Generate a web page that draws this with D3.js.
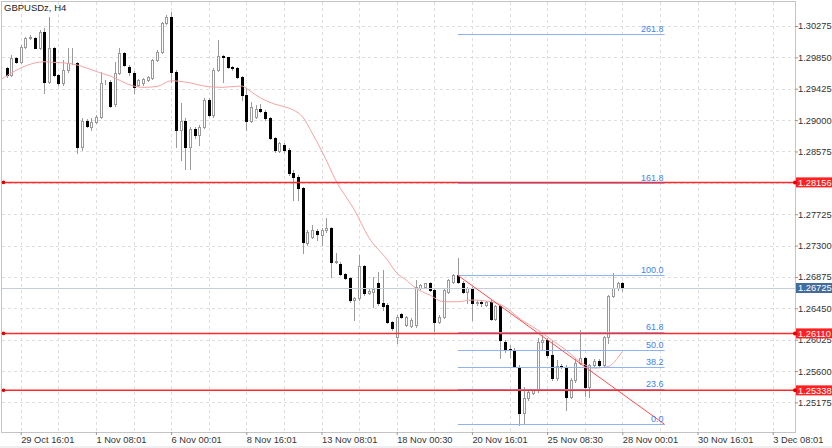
<!DOCTYPE html>
<html>
<head>
<meta charset="utf-8">
<script src="https://cdn.jsdelivr.net/npm/d3@7"></script>
<style>
  html, body { margin: 0; padding: 0; background: #fff; }
  svg { display: block; font-family: "Liberation Sans", Arial, sans-serif; }
</style>
</head>
<body>
<svg id="chart" width="832" height="448"></svg>
<script>
// GBPUSDz H4 - bar index 0 = 29 Oct 16:00, one step = one 4h bar
const firstIndex = -3;

const opens = [
  1.29710, 1.29611, 1.29837, 1.29791, 1.29986, 1.30116, 1.30108, 1.29973, 1.30189, 1.29520,
  1.29973, 1.29611, 1.29498, 1.29679, 1.29777, 1.29769, 1.28639, 1.28992, 1.28910, 1.28978,
  1.29046, 1.29516, 1.29520, 1.29218, 1.29638, 1.29909, 1.29719, 1.29642, 1.29475, 1.29502,
  1.29543, 1.29570, 1.29814, 1.29922, 1.30315, 1.30397, 1.29655, 1.28866, 1.28992, 1.28639,
  1.28875, 1.28798, 1.28910, 1.29272, 1.29069, 1.29679, 1.29868, 1.29851, 1.29723, 1.29702,
  1.29588, 1.29340, 1.28992, 1.29038, 1.29146, 1.29114, 1.29024, 1.28753, 1.28585, 1.28662,
  1.28595, 1.28287, 1.28233, 1.28076, 1.27338, 1.27420, 1.27497, 1.27443, 1.27511, 1.27538,
  1.27081, 1.27050, 1.26914, 1.26860, 1.26562, 1.26585, 1.27023, 1.26657, 1.26671, 1.26792,
  1.26521, 1.26494, 1.26268, 1.26065, 1.26372, 1.26223, 1.26210, 1.26223, 1.26725, 1.26742,
  1.26788, 1.26698, 1.26268, 1.26336, 1.26675, 1.26810, 1.26901, 1.26796, 1.26671, 1.26725,
  1.26521, 1.26535, 1.26494, 1.26539, 1.26305, 1.26481, 1.25997, 1.25894, 1.25885, 1.25658,
  1.25035, 1.25230, 1.25306, 1.25343, 1.25993, 1.26020, 1.25817, 1.25505, 1.25668, 1.25658,
  1.25252, 1.25478, 1.25713, 1.25772, 1.25387, 1.25681, 1.25740, 1.25681, 1.26057, 1.26616,
  1.26721, 1.26792
];
const highs = [
  1.29723, 1.29882, 1.29855, 1.30017, 1.30130, 1.30153, 1.30130, 1.30221, 1.30248, 1.30401,
  1.29994, 1.29624, 1.29814, 1.29977, 1.29977, 1.29787, 1.29028, 1.29015, 1.29028, 1.29069,
  1.29651, 1.29543, 1.29543, 1.29787, 1.29977, 1.29922, 1.29746, 1.29665, 1.29557, 1.29570,
  1.29597, 1.29828, 1.29950, 1.30329, 1.30424, 1.30464, 1.29679, 1.29231, 1.29028, 1.28906,
  1.28906, 1.28933, 1.29299, 1.29299, 1.29706, 1.30085, 1.29882, 1.29855, 1.29733, 1.29719,
  1.29597, 1.29435, 1.29249, 1.29204, 1.29218, 1.29137, 1.29042, 1.28771, 1.28703, 1.28690,
  1.28622, 1.28324, 1.28256, 1.28089, 1.27511, 1.27578, 1.27524, 1.27538, 1.27673, 1.27551,
  1.27199, 1.27077, 1.26928, 1.26874, 1.26603, 1.27172, 1.27036, 1.26725, 1.26874, 1.26941,
  1.26969, 1.26521, 1.26277, 1.26359, 1.26386, 1.26345, 1.26318, 1.26833, 1.26779, 1.26792,
  1.26806, 1.26725, 1.26359, 1.26725, 1.26847, 1.26914, 1.27127, 1.26820, 1.26738, 1.26738,
  1.26562, 1.26562, 1.26548, 1.26562, 1.26494, 1.26494, 1.26020, 1.25952, 1.25912, 1.25681,
  1.25388, 1.25343, 1.25356, 1.26047, 1.26088, 1.26047, 1.26020, 1.25749, 1.25695, 1.25681,
  1.25505, 1.25762, 1.26156, 1.25790, 1.25695, 1.25763, 1.25763, 1.26074, 1.26630, 1.26928,
  1.26806, 1.26806
];
const lows = [
  1.29588, 1.29597, 1.29773, 1.29773, 1.29977, 1.30099, 1.29973, 1.29963, 1.29367, 1.29502,
  1.29597, 1.29475, 1.29475, 1.29651, 1.29760, 1.28554, 1.28595, 1.28906, 1.28866, 1.28960,
  1.29028, 1.29489, 1.29177, 1.29191, 1.29624, 1.29733, 1.29611, 1.29367, 1.29462, 1.29475,
  1.29529, 1.29557, 1.29800, 1.29909, 1.30302, 1.29516, 1.28635, 1.28459, 1.28337, 1.28337,
  1.28763, 1.28662, 1.28893, 1.29055, 1.29042, 1.29665, 1.29516, 1.29706, 1.29679, 1.29570,
  1.29272, 1.28866, 1.28974, 1.29028, 1.29109, 1.29001, 1.28744, 1.28567, 1.28567, 1.28567,
  1.28256, 1.27917, 1.27917, 1.27199, 1.27307, 1.27402, 1.27375, 1.27307, 1.27483, 1.26874,
  1.27063, 1.26901, 1.26847, 1.26535, 1.26291, 1.26562, 1.26630, 1.26643, 1.26467, 1.26494,
  1.26427, 1.26250, 1.26156, 1.25979, 1.26318, 1.26210, 1.26196, 1.26196, 1.26711, 1.26725,
  1.26684, 1.26142, 1.26250, 1.26318, 1.26657, 1.26792, 1.26792, 1.26657, 1.26521, 1.26291,
  1.26494, 1.26481, 1.26481, 1.26291, 1.26291, 1.25776, 1.25857, 1.25790, 1.25654, 1.24868,
  1.24882, 1.25207, 1.25288, 1.25315, 1.25885, 1.25790, 1.25478, 1.25478, 1.25641, 1.25072,
  1.25234, 1.25451, 1.25695, 1.25261, 1.25248, 1.25668, 1.25668, 1.25668, 1.25979, 1.26603,
  1.26698, 1.26684
];
const closes = [
  1.29611, 1.29837, 1.29783, 1.29994, 1.30116, 1.30130, 1.29981, 1.30189, 1.29520, 1.29973,
  1.29611, 1.29498, 1.29679, 1.29773, 1.29769, 1.28639, 1.28992, 1.28920, 1.28978, 1.29046,
  1.29502, 1.29520, 1.29191, 1.29638, 1.29909, 1.29746, 1.29651, 1.29444, 1.29543, 1.29557,
  1.29584, 1.29814, 1.29922, 1.30315, 1.30397, 1.29655, 1.28866, 1.28992, 1.28639, 1.28875,
  1.28798, 1.28910, 1.29272, 1.29069, 1.29679, 1.29868, 1.29851, 1.29723, 1.29702, 1.29588,
  1.29340, 1.28992, 1.29181, 1.29146, 1.29123, 1.29024, 1.28753, 1.28595, 1.28685, 1.28595,
  1.28287, 1.28233, 1.28076, 1.27352, 1.27487, 1.27511, 1.27456, 1.27511, 1.27538, 1.27081,
  1.27090, 1.26914, 1.26860, 1.26562, 1.26585, 1.27023, 1.26657, 1.26684, 1.26711, 1.26521,
  1.26481, 1.26268, 1.26183, 1.26336, 1.26336, 1.26332, 1.26291, 1.26742, 1.26765, 1.26788,
  1.26698, 1.26268, 1.26336, 1.26698, 1.26833, 1.26901, 1.26810, 1.26675, 1.26725, 1.26521,
  1.26535, 1.26521, 1.26539, 1.26305, 1.26481, 1.26020, 1.25885, 1.25885, 1.25658, 1.25035,
  1.25230, 1.25319, 1.25343, 1.25993, 1.26020, 1.25817, 1.25505, 1.25668, 1.25658, 1.25252,
  1.25478, 1.25713, 1.25772, 1.25387, 1.25681, 1.25740, 1.25681, 1.26057, 1.26616, 1.26721,
  1.26796, 1.26725
];

// moving average (bar index, price)
const maIndex = [-4, -2, 0, 3, 5, 7, 10, 12, 14, 17, 19, 24, 26, 29, 32, 35, 40, 43, 47, 48,
  50, 54, 56, 58, 60, 62, 65, 67, 71, 74, 78, 80, 82, 84, 87, 90, 93, 96, 100, 103,
  106, 110, 113, 116, 119, 122, 125, 127, 128];
const maValue = [1.29557, 1.29638, 1.29706, 1.29774, 1.29791, 1.29783, 1.29770, 1.29747, 1.29706, 1.29638,
  1.29598, 1.29462, 1.29444, 1.29455, 1.29534, 1.29516, 1.29453, 1.29444, 1.29462, 1.29431,
  1.29340, 1.29218, 1.29182, 1.29137, 1.29042, 1.28825, 1.28459, 1.28188, 1.27782, 1.27416,
  1.27107, 1.26930, 1.26833, 1.26725, 1.26630, 1.26539, 1.26539, 1.26562, 1.26539, 1.26471,
  1.26318, 1.26156, 1.26020, 1.25885, 1.25727, 1.25639, 1.25661, 1.25775, 1.25864];

// axis ticks
const priceTicks = [1.30275, 1.29850, 1.29425, 1.29000, 1.28575, 1.28150, 1.27725,
  1.27300, 1.26875, 1.26450, 1.26025, 1.25600, 1.25175];
const timeTickIndex = [0, 16, 32, 48, 64, 80, 96, 112, 128, 144, 160];
const timeTickLabels = ['29 Oct 16:01', '1 Nov 08:01', '6 Nov 00:01', '8 Nov 16:01', '13 Nov 08:01',
  '18 Nov 00:30', '20 Nov 16:01', '25 Nov 08:30', '28 Nov 00:01', '30 Nov 16:01', '3 Dec 08:01'];

// horizontal levels and the fibo object
const redLevels = [1.28156, 1.26110, 1.25338];
const lastPrice = 1.26725;
const fibLevels = [0, 23.6, 38.2, 50.0, 61.8, 100.0, 161.8, 261.8];
const fibHigh = 1.26897;   // 100.0
const fibLow = 1.24878;    // 0.0
const fibFrom = 93;        // bar index of anchors
const fibTo = 137;

const W = 832, H = 448;
const plot = { left: 2, top: 2, right: 795, bottom: 432 };

const svg = d3.select('#chart');

const x = d3.scaleLinear().domain([0, 160]).range([20.7, 772.7]);
const y = d3.scaleLinear().domain([1.25175, 1.30275]).range([402.4, 26]);
const px = v => Math.round(v) + 0.5;

svg.append('defs').append('clipPath').attr('id', 'clip')
  .append('rect')
  .attr('x', plot.left).attr('y', plot.top)
  .attr('width', plot.right - plot.left).attr('height', plot.bottom - plot.top);

// light strip at the very bottom
svg.append('rect')
  .attr('x', 0).attr('y', 446).attr('width', W).attr('height', 2)
  .attr('fill', '#efefef');

const plotG = svg.append('g').attr('clip-path', 'url(#clip)');

// dashed grid
plotG.selectAll('.hgrid')
  .data(priceTicks)
  .enter().append('line')
  .attr('x1', plot.left).attr('x2', plot.right)
  .attr('y1', d => px(y(d))).attr('y2', d => px(y(d)))
  .attr('stroke', '#dedede')
  .attr('stroke-dasharray', '3,3');

plotG.selectAll('.vgrid')
  .data(d3.range(0, 161, 8))
  .enter().append('line')
  .attr('x1', d => px(x(d))).attr('x2', d => px(x(d)))
  .attr('y1', plot.top).attr('y2', plot.bottom)
  .attr('stroke', '#dedede')
  .attr('stroke-dasharray', '3,3');

// frame
svg.append('rect')
  .attr('x', plot.left - 0.5).attr('y', plot.top - 0.5)
  .attr('width', plot.right - plot.left + 1).attr('height', plot.bottom - plot.top + 1)
  .attr('fill', 'none')
  .attr('stroke', '#c4c4c4');

// candles
const bars = opens.map((o, k) => ({
  i: firstIndex + k, o: o, h: highs[k], l: lows[k], c: closes[k]
}));

const candles = plotG.selectAll('.candle')
  .data(bars)
  .enter().append('g');

candles.append('line')
  .attr('x1', d => px(x(d.i))).attr('x2', d => px(x(d.i)))
  .attr('y1', d => Math.round(y(d.h))).attr('y2', d => Math.round(y(d.l)) + 1)
  .attr('stroke', '#9a9a9a');

candles.append('rect')
  .attr('x', d => px(x(d.i)) - 1)
  .attr('y', d => Math.round(y(Math.max(d.o, d.c))) + 0.5)
  .attr('width', 2)
  .attr('height', d => Math.max(0, Math.round(y(Math.min(d.o, d.c))) - Math.round(y(Math.max(d.o, d.c)))))
  .attr('fill', d => d.c < d.o ? '#000' : '#fff')
  .attr('stroke', d => d.c < d.o ? '#000' : '#9a9a9a');

// moving average
const maLine = d3.line()
  .x(d => x(d[0]))
  .y(d => y(d[1]))
  .curve(d3.curveMonotoneX);

plotG.append('path')
  .datum(maIndex.map((d, k) => [d, maValue[k]]))
  .attr('fill', 'none')
  .attr('stroke', '#f5a3a3')
  .attr('stroke-width', 1)
  .attr('d', maLine);

// last price line
plotG.append('line')
  .attr('x1', plot.left).attr('x2', plot.right)
  .attr('y1', px(y(lastPrice))).attr('y2', px(y(lastPrice)))
  .attr('stroke', '#c6ccd8');

// fibonacci retracement
const fibPrice = lv => fibLow + (fibHigh - fibLow) * lv / 100;

plotG.selectAll('.fib')
  .data(fibLevels)
  .enter().append('line')
  .attr('x1', x(fibFrom)).attr('x2', x(fibTo))
  .attr('y1', d => px(y(fibPrice(d)))).attr('y2', d => px(y(fibPrice(d))))
  .attr('stroke', '#8fb2f5');

plotG.append('line')
  .attr('x1', x(fibFrom)).attr('y1', y(fibHigh))
  .attr('x2', x(fibTo)).attr('y2', y(fibLow))
  .attr('stroke', '#ff4d4d');

plotG.selectAll('.fibText')
  .data(fibLevels)
  .enter().append('text')
  .attr('x', x(fibTo) - 1)
  .attr('y', d => y(fibPrice(d)) - 2)
  .attr('text-anchor', 'end')
  .attr('font-size', '9px')
  .attr('fill', '#3f7ff2')
  .text(d => d.toFixed(1));

// red horizontal levels
plotG.selectAll('.level')
  .data(redLevels)
  .enter().append('line')
  .attr('x1', plot.left).attr('x2', plot.right)
  .attr('y1', d => y(d)).attr('y2', d => y(d))
  .attr('stroke', '#ff2b2b')
  .attr('stroke-width', 1.5);

svg.selectAll('.levelDot')
  .data(redLevels)
  .enter().append('circle')
  .attr('cx', 3.5).attr('cy', d => y(d))
  .attr('r', 1.8)
  .attr('fill', '#e00000');

// y axis
const yAxis = d3.axisRight(y)
  .tickValues(priceTicks)
  .tickFormat(d3.format('.5f'))
  .tickSize(3)
  .tickPadding(0);

const yG = svg.append('g')
  .attr('transform', `translate(${plot.right}, 0)`)
  .call(yAxis);
yG.select('.domain').remove();
yG.selectAll('line').attr('stroke', '#999');
yG.selectAll('text')
  .attr('font-size', '9.3px')
  .attr('font-family', '"Liberation Sans", Arial, sans-serif')
  .attr('fill', '#333');

// x axis
const xAxis = d3.axisBottom(x)
  .tickValues(timeTickIndex)
  .tickFormat((d, k) => timeTickLabels[k])
  .tickSize(3)
  .tickPadding(1.5);

const xG = svg.append('g')
  .attr('transform', `translate(0, ${plot.bottom})`)
  .call(xAxis);
xG.select('.domain').remove();
xG.selectAll('line').attr('stroke', '#999');
xG.selectAll('text')
  .attr('text-anchor', 'start')
  .attr('font-size', '9.3px')
  .attr('font-family', '"Liberation Sans", Arial, sans-serif')
  .attr('fill', '#333');

// price labels on the right scale
const tags = redLevels.map(v => ({ v: v, bg: '#ff2020' }))
  .concat([{ v: lastPrice, bg: '#436c9c' }]);

const tagG = svg.selectAll('.tag')
  .data(tags)
  .enter().append('g');

tagG.append('rect')
  .attr('x', 796).attr('y', d => y(d.v) - 5)
  .attr('width', 36).attr('height', 10)
  .attr('fill', d => d.bg);

tagG.append('text')
  .attr('x', 798).attr('y', d => y(d.v) + 3.3)
  .attr('font-size', '9.3px')
  .attr('fill', '#fff')
  .text(d => d.v.toFixed(5));

svg.selectAll('.tagDot')
  .data(redLevels)
  .enter().append('circle')
  .attr('cx', 795).attr('cy', d => y(d))
  .attr('r', 2)
  .attr('fill', '#e00000');

// symbol title
svg.append('text')
  .attr('x', 4).attr('y', 11)
  .attr('font-size', '9.5px')
  .attr('fill', '#222')
  .text('GBPUSDz, H4');
</script>
</body>
</html>
